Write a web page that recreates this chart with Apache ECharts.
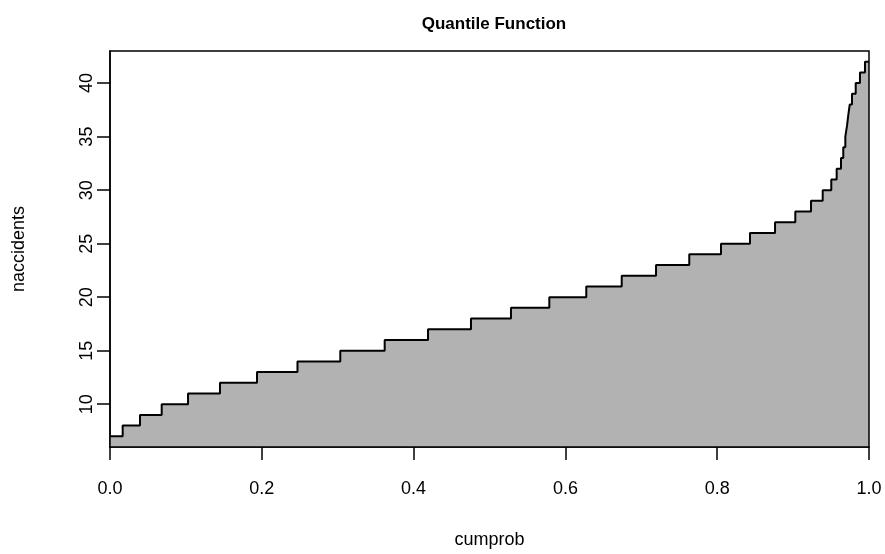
<!DOCTYPE html>
<html>
<head>
<meta charset="UTF-8">
<title>Quantile Function</title>
<script type="text/javascript" src="https://cdn.jsdelivr.net/npm/echarts@6/dist/echarts.min.js"></script>
<style>
  body{margin:0;background:#fff}
</style>
</head>
<body>
<div id="main" style="width:885px;height:554px"></div>
<script type="text/javascript">
// quantile function: value k holds up to cumulative probability cumprob[i]
var naccidents = [7, 8, 9, 10, 11, 12, 13, 14, 15, 16, 17, 18, 19, 20, 21, 22, 23, 24,
                  25, 26, 27, 28, 29, 30, 31, 32, 33, 34, 35, 36, 37, 38, 39, 40, 41, 42];
var cumprob = [0.0167, 0.0395, 0.0681, 0.1028, 0.1449, 0.1937, 0.2470, 0.3034, 0.3619,
               0.4190, 0.4756, 0.5283, 0.5788, 0.6275, 0.6742, 0.7194, 0.7632, 0.8050,
               0.8432, 0.8762, 0.9029, 0.9236, 0.9390, 0.9503, 0.9574, 0.9631, 0.9661,
               0.9688, 0.9710, 0.9727, 0.9746, 0.9776, 0.9825, 0.9881, 0.9947, 1.0];
var xTicks = [0, 0.2, 0.4, 0.6, 0.8, 1.0];
var yTicks = [10, 15, 20, 25, 30, 35, 40];

var font = 'Liberation Sans, Arial, sans-serif';

var stepData = [[0, naccidents[0]]];
cumprob.forEach(function(p, i) {
    stepData.push([p, naccidents[i]]);
});

var myChart = echarts.init(document.getElementById('main'));

var option = {
    animation: false,
    title: {
        text: 'Quantile Function',
        left: 489,
        textAlign: 'center',
        top: 11,
        textStyle: {fontFamily: font, fontSize: 17, fontWeight: 'bold', color: '#000'}
    },
    grid: {
        show: true,
        z: 10,
        left: 110, right: 16, top: 51, bottom: 107,
        borderColor: '#000', borderWidth: 1.5,
        backgroundColor: 'transparent'
    },
    xAxis: {
        type: 'value',
        min: 0, max: 1, interval: 0.2,
        name: 'cumprob',
        nameLocation: 'middle',
        nameGap: 84,
        nameTextStyle: {fontFamily: font, fontSize: 18, color: '#000'},
        splitLine: {show: false},
        axisLine: {show: true, lineStyle: {color: '#000', width: 1.5}},
        axisTick: {show: true, length: 13, customValues: xTicks, lineStyle: {color: '#000', width: 1.5}},
        axisLabel: {
            margin: 33,
            customValues: xTicks,
            fontFamily: font, fontSize: 18, color: '#000',
            formatter: function(v) { return v.toFixed(1); }
        }
    },
    yAxis: {
        type: 'value',
        min: 6, max: 43,
        name: 'naccidents',
        nameLocation: 'middle',
        nameGap: 82,
        nameRotate: 90,
        nameTextStyle: {fontFamily: font, fontSize: 18, color: '#000'},
        splitLine: {show: false},
        axisLine: {show: true, lineStyle: {color: '#000', width: 1.5}},
        axisTick: {show: true, length: 13, customValues: yTicks, lineStyle: {color: '#000', width: 1.5}},
        axisLabel: {
            rotate: 90,
            margin: 14,
            customValues: yTicks,
            fontFamily: font, fontSize: 18, color: '#000'
        }
    },
    series: [
        {
            name: 'naccidents',
            type: 'line',
            step: 'start',
            data: stepData,
            symbol: 'none',
            lineStyle: {color: '#000', width: 2},
            areaStyle: {color: '#b2b2b2', opacity: 1, origin: 'start'}
        }
    ]
};

myChart.setOption(option);
</script>
</body>
</html>
